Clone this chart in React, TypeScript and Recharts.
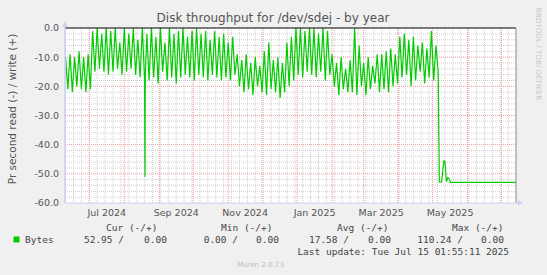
import React from 'react';
import { LineChart, Line, XAxis, YAxis, CartesianGrid, ReferenceLine } from 'recharts';

// Day 0 = 10 Jun 2024; series sampled every 2 days from day 0 to day 330
const zigzagStep = 2;
const readValues = [
  -10, -21, -9, -22, -10, -20, -8, -21, -10, -22,
  -9, -21, -1, -15, 0, -14, -2, -15, 0, -16,
  -1, -15, 0, -14, -5, -16, 0, -15, -2, -14,
  0, -16, -4, -17, 0, -18, -2, -18, 0, -17,
  -3, -19, 0, -15, -5, -18, 0, -17, -2, -19,
  -1, -17, 0, -16, -3, -17, -1, -18, 0, -16,
  -2, -17, -1, -18, -4, -16, -1, -17, -3, -18,
  -2, -17, -5, -18, -3, -16, -9, -20, -11, -22,
  -9, -21, -12, -23, -10, -20, -13, -22, -8, -23,
  -5, -21, -11, -22, -10, -24, -12, -22, -5, -20,
  -3, -18, 0, -16, 0, -17, -1, -15, 0, -16,
  0, -17, -2, -15, 0, -18, -1, -16, -9, -20,
  -12, -23, -10, -21, -14, -22, -11, -22, 0, -23,
  -6, -20, -12, -23, -10, -21, -13, -19, -9, -22,
  -9, -21, -8, -22, -7, -20, -9, -19, -3, -17,
  -2, -16, -4, -20, -3, -18, -6, -15, -5, -19,
  -7, -17, -1, -18, -6, -15,
];
// extra irregular points (spike in Aug 2024 and the drop in May 2025)
const extraDays = [70.3, 70.6, 331, 333, 335, 336, 337.3, 338.6, 339.5, 341, 398.9];
const extraValues = [-51, -17, -52.8, -52.8, -45.6, -45.8, -52.6, -51.3, -51.6, -52.9, -52.95];

const monthStartDays = [21, 52, 83, 113, 144, 174, 205, 236, 264, 295, 325, 356, 386];
const labelDays = [36.5, 98, 159, 220.5, 279.5, 340.5];
const labelTexts = ['Jul 2024', 'Sep 2024', 'Nov 2024', 'Jan 2025', 'Mar 2025', 'May 2025'];
const yTicks = [-60, -50, -40, -30, -20, -10, 0];

const data = [
  ...readValues.map((v, i) => ({ d: i * zigzagStep, v })),
  ...extraDays.map((d, i) => ({ d, v: extraValues[i] })),
].sort((a, b) => a.d - b.d);

const weekDays: number[] = [];
for (let d = 0; d < 399; d += 7) weekDays.push(d);
const minorY: number[] = [];
for (let y = -58; y < 0; y += 2) if (y % 10 !== 0) minorY.push(y);
const majorY = [-50, -40, -30, -20, -10];

const AXIS = '#C8CCF4';
const SANS = 'DejaVu Sans';
const MONO = 'DejaVu Sans Mono';

export default function App() {
  return (
    <div style={{ position: 'absolute', left: 0, top: 0, width: 547, height: 275, background: '#F0F0F0' }}>
      <LineChart width={547} height={275} data={data} margin={{ top: 28, right: 31, bottom: 52, left: 0 }}>
        <CartesianGrid fill="#FFFFFF" stroke="#D0D0D0" strokeDasharray="1 1" verticalValues={weekDays} horizontalValues={minorY} />
        <CartesianGrid stroke="#EE9A9A" strokeDasharray="1 1" verticalValues={monthStartDays} horizontalValues={majorY} />
        <XAxis
          type="number"
          dataKey="d"
          domain={[-0.5, 398.9]}
          allowDataOverflow
          ticks={labelDays}
          tickFormatter={(v: number) => labelTexts[labelDays.indexOf(v)] ?? ''}
          interval={0}
          height={20}
          tickLine={false}
          tickSize={4}
          tickMargin={2}
          axisLine={{ stroke: AXIS }}
          tick={{ fill: '#555', fontSize: 9.5, fontFamily: SANS }}
        />
        <YAxis
          type="number"
          domain={[-60, 0]}
          allowDataOverflow
          ticks={yTicks}
          interval={0}
          tickFormatter={(v: number) => v.toFixed(1)}
          width={65}
          tickLine={false}
          tickSize={4}
          tickMargin={2}
          axisLine={{ stroke: AXIS }}
          tick={{ fill: '#555', fontSize: 9.5, fontFamily: SANS }}
        />
        <Line type="linear" dataKey="v" stroke="#00CC00" strokeWidth={1.2} dot={false} isAnimationActive={false} />
        <ReferenceLine y={0} stroke="#000000" strokeWidth={1} />
        <ReferenceLine x={398.9} stroke="#8C8C8C" strokeWidth={1} />
      </LineChart>
      <svg width={547} height={275} style={{ position: 'absolute', left: 0, top: 0, pointerEvents: 'none' }}>
        <polygon points="62.5,27 67.5,27 65,21" fill={AXIS} />
        <line x1={65} y1={27} x2={65} y2={203} stroke={AXIS} />
        <line x1={516} y1={203} x2={519} y2={203} stroke={AXIS} />
        <polygon points="518,200.5 518,205.5 523,203" fill={AXIS} />
        <text x={273} y={22} textAnchor="middle" fontFamily={SANS} fontSize={12} fill="#555">Disk throughput for /dev/sdej - by year</text>
        <text x={0} y={0} transform="translate(15.5,109) rotate(-90)" textAnchor="middle" fontFamily={SANS} fontSize={10.5} fill="#555">Pr second read (-) / write (+)</text>
        <text x={0} y={0} transform="translate(536,54) rotate(90)" textAnchor="middle" fontFamily={SANS} fontSize={7.2} fill="#C8C8C8">RRDTOOL / TOBI OETIKER</text>
        <g fontFamily={MONO} fontSize={9.5} fill="#444" style={{ whiteSpace: 'pre' }}>
          <text x={106} y={231}>Cur (-/+)</text>
          <text x={221} y={231}>Min (-/+)</text>
          <text x={337} y={231}>Avg (-/+)</text>
          <text x={452} y={231}>Max (-/+)</text>
          <text x={25} y={243}>Bytes</text>
          <text x={124} y={243} textAnchor="end">52.95 /</text>
          <text x={167} y={243} textAnchor="end">0.00</text>
          <text x={238} y={243} textAnchor="end">0.00 /</text>
          <text x={279} y={243} textAnchor="end">0.00</text>
          <text x={349} y={243} textAnchor="end">17.58 /</text>
          <text x={391} y={243} textAnchor="end">0.00</text>
          <text x={463} y={243} textAnchor="end">110.24 /</text>
          <text x={504} y={243} textAnchor="end">0.00</text>
          <text x={509} y={255} textAnchor="end">Last update: Tue Jul 15 01:55:11 2025</text>
        </g>
        <rect x={13.5} y={236.5} width={6} height={6} fill="#00CC00" />
        <text x={260.5} y={267} textAnchor="middle" fontFamily={SANS} fontSize={7.2} fill="#BBBBBB">Munin 2.0.73</text>
      </svg>
    </div>
  );
}
